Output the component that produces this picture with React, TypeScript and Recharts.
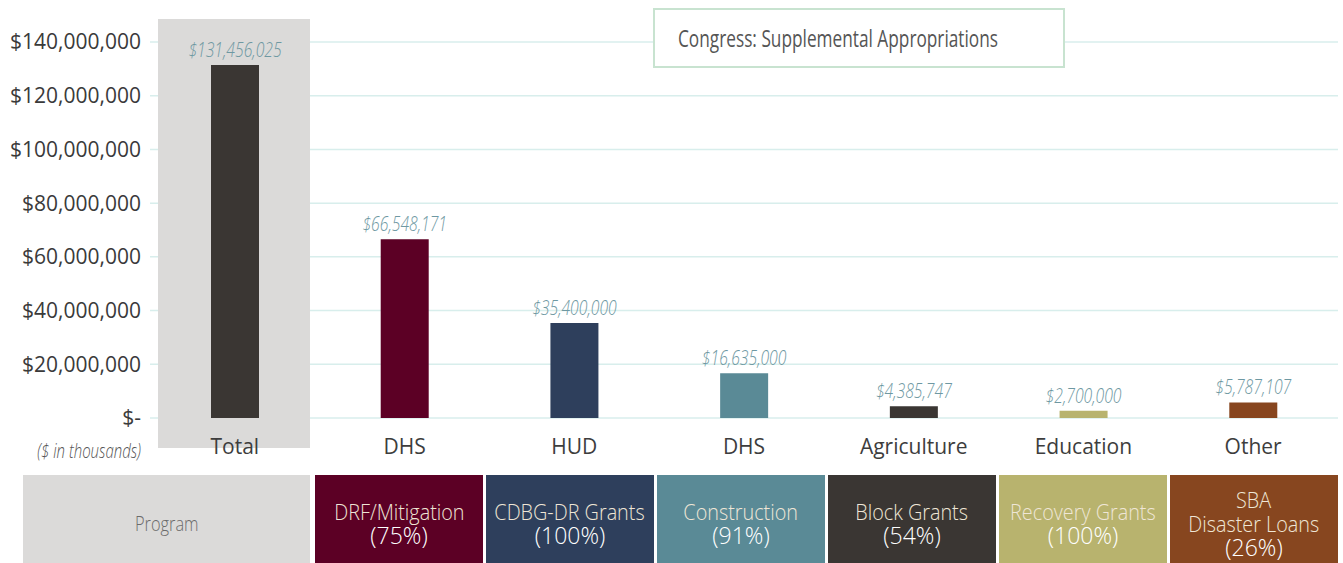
import { BarChart, Bar, Cell, XAxis, YAxis, CartesianGrid, LabelList } from 'recharts';

const categories = ['Total', 'DHS', 'HUD', 'DHS', 'Agriculture', 'Education', 'Other'];
const amounts = [131456025, 66548171, 35400000, 16635000, 4385747, 2700000, 5787107];
const barColors = ['#3a3633', '#5c0025', '#2e3f5c', '#5a8a96', '#3a3633', '#b8b36e', '#87461f'];
const yTicks = [0, 20000000, 40000000, 60000000, 80000000, 100000000, 120000000, 140000000];

const programNames = ['DRF/Mitigation', 'CDBG-DR Grants', 'Construction', 'Block Grants', 'Recovery Grants', 'SBA\nDisaster Loans'];
const programShares = ['(75%)', '(100%)', '(91%)', '(54%)', '(100%)', '(26%)'];

const data = categories.map((name, i) => ({ name, value: amounts[i] }));

const SANS = "'Open Sans', 'DejaVu Sans', sans-serif";
const GREY = '#dbdad9';

const money = (v: number) => (v === 0 ? '$-' : '$' + v.toLocaleString('en-US'));

function YTick(props: any) {
  const { x, y, payload } = props;
  return (
    <g>
      <text x={x} y={y} dy="0.355em" textAnchor="end" fontSize={21} fill="#3a3a3a" fontFamily={SANS}>
        {money(payload.value)}
      </text>
      {payload.value === 0 && (
        <text
          transform={`translate(${x}, ${y + 40}) scale(0.75, 1)`}
          textAnchor="end"
          fontSize={20}
          fontStyle="italic"
          fontWeight={300}
          fill="#555"
          fontFamily={SANS}
        >
          ($ in thousands)
        </text>
      )}
    </g>
  );
}

function ValueLabel(props: any) {
  const { x, y, width, value } = props;
  return (
    <text
      transform={`translate(${x + width / 2}, ${y - 8}) scale(0.75, 1)`}
      textAnchor="middle"
      fontSize={21}
      fontStyle="italic"
      fontWeight={300}
      fill="#6e98a2"
      fontFamily={SANS}
    >
      {money(Number(value))}
    </text>
  );
}

// grey panel behind the Total column, runs past the plot top and under the label
function TotalPanel(props: any) {
  const { x, y, width, height, index } = props;
  if (index !== 0) return <g />;
  const cx = x + width / 2;
  return <rect x={cx - 77} y={y - 23} width={152} height={height + 53} fill={GREY} />;
}

const cond = (scale: number): React.CSSProperties => ({
  display: 'inline-block',
  transform: `scaleX(${scale})`,
  whiteSpace: 'nowrap',
});

export default function App() {
  return (
    <div style={{ position: 'absolute', left: 0, top: 0, width: 1343, height: 563, overflow: 'hidden', background: '#fff', fontFamily: SANS }}>
      <BarChart width={1343} height={475} data={data} margin={{ top: 42, right: 5, bottom: 0, left: 0 }}>
        <CartesianGrid vertical={false} stroke="#d8eeec" strokeWidth={1.5} />
        <XAxis
          dataKey="name"
          height={57}
          axisLine={false}
          tickLine={false}
          tickMargin={15}
          interval={0}
          tick={{ fontSize: 21, fill: '#3d3d3d', fontFamily: SANS }}
        />
        <YAxis
          width={150}
          domain={[0, 140000000]}
          ticks={yTicks}
          axisLine={false}
          tickLine={false}
          tickMargin={3}
          tick={<YTick />}
        />
        <Bar dataKey="value" barSize={48} isAnimationActive={false} background={(p: any) => <TotalPanel key={p.index} {...p} />}>
          {data.map((d, i) => (
            <Cell key={i} fill={barColors[i]} />
          ))}
          <LabelList dataKey="value" content={<ValueLabel />} />
        </Bar>
      </BarChart>

      <div
        style={{
          position: 'absolute',
          left: 653,
          top: 8,
          width: 412,
          height: 60,
          border: '2px solid #c8e3d0',
          background: '#fff',
          display: 'flex',
          alignItems: 'center',
          paddingLeft: 23,
          boxSizing: 'border-box',
        }}
      >
        <span style={{ ...cond(0.75), transformOrigin: 'left center', fontSize: 23, fontWeight: 400, color: '#555' }}>
          Congress: Supplemental Appropriations
        </span>
      </div>

      <div
        style={{
          position: 'absolute',
          left: 23,
          top: 475,
          width: 287,
          height: 96,
          background: GREY,
          display: 'flex',
          alignItems: 'center',
          justifyContent: 'center',
          color: '#6b6b6b',
          fontSize: 21,
          fontWeight: 300,
        }}
      >
        <span style={cond(0.78)}>Program</span>
      </div>

      {programNames.map((name, i) => (
        <div
          key={i}
          style={{
            position: 'absolute',
            left: 315 + i * 171,
            top: 475,
            width: 168,
            height: 96,
            background: barColors[i + 1],
            display: 'flex',
            flexDirection: 'column',
            alignItems: 'center',
            justifyContent: 'center',
            lineHeight: '24px',
          }}
        >
          {name.split('\n').map((line, j) => (
            <span key={j} style={{ ...cond(0.9), fontSize: 22, fontWeight: 300, color: '#efe6d6' }}>
              {line}
            </span>
          ))}
          <span style={{ fontSize: 23, fontWeight: 300, color: '#fff' }}>{programShares[i]}</span>
        </div>
      ))}
    </div>
  );
}
